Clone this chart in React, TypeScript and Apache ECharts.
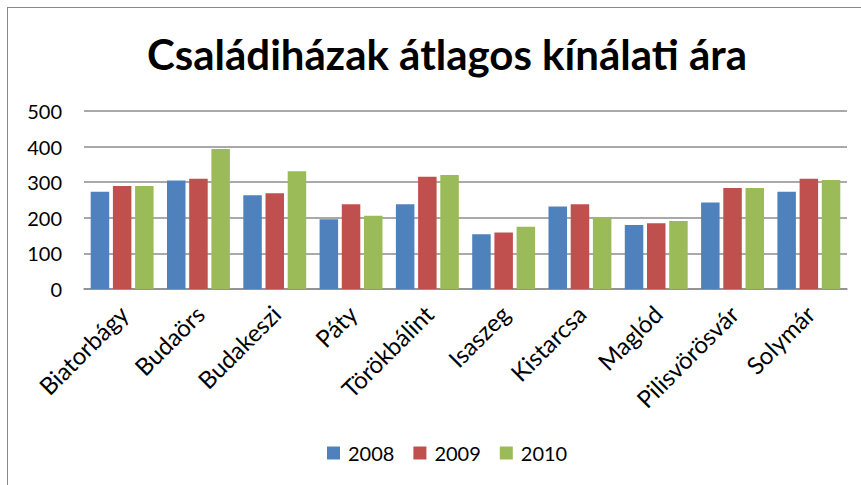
import React, { useEffect, useRef } from "react";
import * as echarts from "echarts";

const categories = ["Biatorbágy", "Budaörs", "Budakeszi", "Páty", "Törökbálint", "Isaszeg", "Kistarcsa", "Maglód", "Pilisvörösvár", "Solymár"];
const seriesNames = ["2008", "2009", "2010"];
const values2008 = [273, 305, 263, 196, 238, 154, 232, 180, 243, 273];
const values2009 = [289, 310, 269, 238, 315, 159, 238, 185, 284, 310];
const values2010 = [289, 393, 331, 206, 320, 175, 201, 191, 284, 306];
const colors = ["#4F81BD", "#C0504D", "#9BBB59"];
const titleText = "Családiházak átlagos kínálati ára";

export default function App() {
  const ref = useRef<HTMLDivElement>(null);
  useEffect(() => {
    if (!ref.current) return;
    const chart = echarts.init(ref.current, null, { renderer: "svg" });
    const font = "Lato, 'Noto Sans', sans-serif";
    const data = [values2008, values2009, values2010];
    chart.setOption({
      animation: false,
      textStyle: { fontFamily: font },
      title: {
        text: titleText,
        left: 434,
        top: 20,
        textAlign: "center",
        textStyle: { fontFamily: font, fontSize: 42, fontWeight: "bold", color: "#000" },
      },
      legend: {
        data: seriesNames,
        left: 314,
        top: 430,
        itemWidth: 13,
        itemHeight: 13,
        itemGap: 19,
        icon: "rect",
        textStyle: { fontFamily: font, fontSize: 20, color: "#000", padding: [0, 0, 0, 3] },
      },
      grid: { left: 76, right: 14, top: 103, bottom: 196, containLabel: false },
      xAxis: {
        type: "category",
        data: categories,
        axisLine: { show: true, lineStyle: { color: "#8c8c8c", width: 1.5 } },
        axisTick: { show: false },
        axisLabel: {
          interval: 0,
          rotate: 45,
          fontSize: 24,
          color: "#000",
          fontFamily: font,
          margin: 22,
          padding: [0, -2, 0, 0],
        },
      },
      yAxis: {
        type: "value",
        min: 0,
        max: 500,
        interval: 100,
        axisLine: { show: false },
        axisTick: { show: false },
        splitLine: { show: true, lineStyle: { color: "#8c8c8c", width: 1.5 } },
        axisLabel: { fontSize: 20, color: "#000", fontFamily: font, margin: 22 },
      },
      series: seriesNames.map((name, i) => ({
        name,
        type: "bar",
        data: data[i],
        barWidth: 18.5,
        barGap: "20%",
        itemStyle: { color: colors[i] },
      })),
    });
    return () => chart.dispose();
  }, []);
  return (
    <div
      style={{
        position: "fixed",
        left: 7,
        top: 7,
        width: 860,
        height: 485,
        borderLeft: "1px solid #888",
        borderTop: "1px solid #888",
        background: "#fff",
      }}
    >
      <div ref={ref} style={{ width: 853, height: 477 }} />
    </div>
  );
}
